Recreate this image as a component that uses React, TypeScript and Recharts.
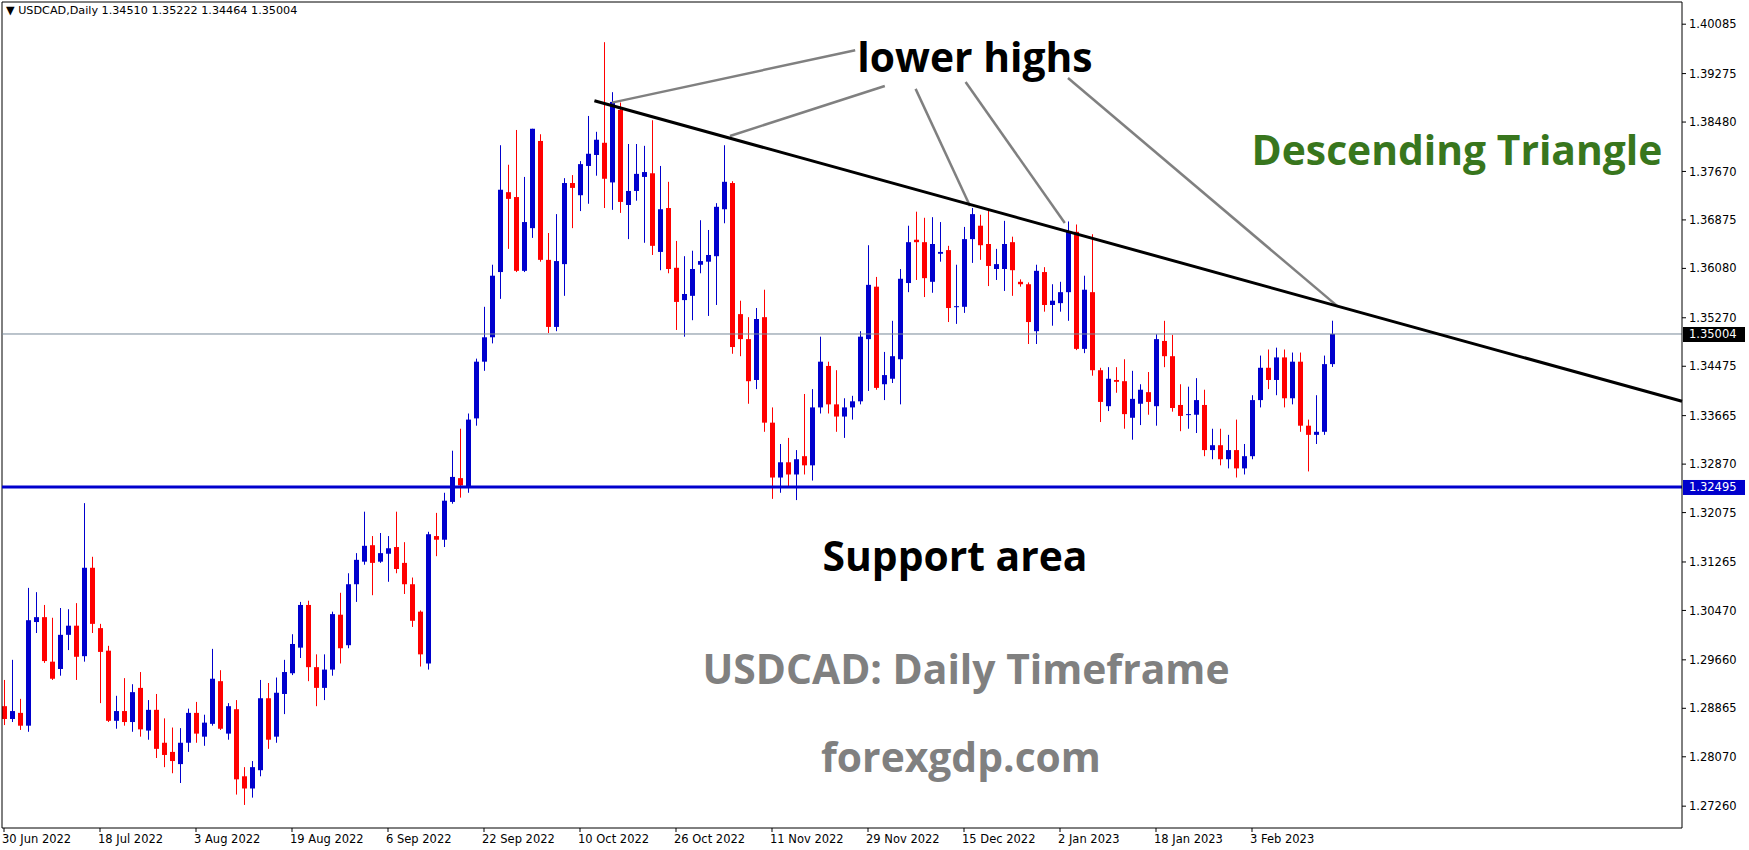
import { Bar, ComposedChart, ReferenceLine, XAxis, YAxis } from 'recharts';

// USDCAD daily, 30 Jun 2022 .. mid Feb 2023
const opens = [
  1.2890, 1.2869, 1.2879, 1.2858, 1.3028, 1.3036, 1.2963, 1.2951, 1.3007, 1.3022,
  1.2972, 1.3117, 1.3018, 1.2981, 1.2866, 1.2882, 1.2864, 1.2920, 1.2850, 1.2884,
  1.2830, 1.2815, 1.2795, 1.2830, 1.2879, 1.2840, 1.2861, 1.2931, 1.2845, 1.2885,
  1.2775, 1.2755, 1.2785, 1.2903, 1.2840, 1.2910, 1.2944, 1.2986, 1.3056, 1.2954,
  1.2920, 1.2950, 1.3040, 1.2990, 1.3090, 1.3127, 1.3154, 1.3127, 1.3140, 1.3151,
  1.3125, 1.3090, 1.3045, 1.2960, 1.3169, 1.3163, 1.3225, 1.3264, 1.3250, 1.3362,
  1.3455, 1.3495, 1.3602, 1.3733, 1.3725, 1.3604, 1.3674, 1.3817, 1.3622, 1.3512,
  1.3615, 1.3748, 1.3728, 1.3776, 1.3794, 1.3814, 1.3749, 1.3868, 1.3712, 1.3735,
  1.3758, 1.3764, 1.3635, 1.3707, 1.3609, 1.3556, 1.3563, 1.3614, 1.3619, 1.3628,
  1.3705, 1.3748, 1.3533, 1.3492, 1.3425, 1.3528, 1.3355, 1.3265, 1.3290, 1.3270,
  1.3300, 1.3285, 1.3380, 1.3448, 1.3385, 1.3365, 1.3380, 1.3390, 1.3492, 1.3578,
  1.3418, 1.3427, 1.3459, 1.3584, 1.3655, 1.3651, 1.3586, 1.3632, 1.3638, 1.3545,
  1.3545, 1.3656, 1.3678, 1.3648, 1.3607, 1.3607, 1.3651, 1.3586, 1.3582, 1.3505,
  1.3602, 1.3548, 1.3551, 1.3569, 1.3668, 1.3476, 1.3569, 1.3441, 1.3382, 1.3425,
  1.3423, 1.3363, 1.3386, 1.3405, 1.3382, 1.3489, 1.3464, 1.3384, 1.3368, 1.3368,
  1.3384, 1.3310, 1.3318, 1.3295, 1.3310, 1.3280, 1.3300, 1.3392, 1.3445, 1.3425,
  1.3462, 1.3395, 1.3455, 1.3350, 1.3335, 1.3340, 1.3451,
];
const highs = [
  1.2933, 1.2966, 1.2902, 1.3084, 1.3077, 1.3056, 1.3035, 1.3051, 1.3049, 1.3059,
  1.3223, 1.3135, 1.3025, 1.2989, 1.2907, 1.2936, 1.2926, 1.2946, 1.2900, 1.2910,
  1.2870, 1.2855, 1.2854, 1.2886, 1.2897, 1.2876, 1.2984, 1.2949, 1.2895, 1.2900,
  1.2790, 1.2800, 1.2933, 1.2928, 1.2937, 1.2966, 1.3008, 1.3061, 1.3063, 1.2975,
  1.2975, 1.3045, 1.3076, 1.3108, 1.3141, 1.3209, 1.3169, 1.3174, 1.3169, 1.3209,
  1.3159, 1.3101, 1.3047, 1.3176, 1.3207, 1.3240, 1.3309, 1.3345, 1.3370, 1.3460,
  1.3545, 1.3614, 1.3810, 1.3778, 1.3835, 1.3758, 1.3837, 1.3828, 1.3666, 1.3697,
  1.3756, 1.3761, 1.3784, 1.3858, 1.3832, 1.3979, 1.3897, 1.3880, 1.3812, 1.3812,
  1.3809, 1.3851, 1.3776, 1.3750, 1.3653, 1.3628, 1.3637, 1.3687, 1.3671, 1.3715,
  1.3810, 1.3751, 1.3555, 1.3528, 1.3543, 1.3573, 1.3380, 1.3320, 1.3330, 1.3310,
  1.3402, 1.3410, 1.3496, 1.3455, 1.3441, 1.3395, 1.3399, 1.3505, 1.3646, 1.3594,
  1.3471, 1.3522, 1.3607, 1.3678, 1.3701, 1.3691, 1.3692, 1.3684, 1.3645, 1.3614,
  1.3676, 1.3707, 1.3696, 1.3704, 1.3640, 1.3686, 1.3660, 1.3590, 1.3585, 1.3614,
  1.3610, 1.3582, 1.3586, 1.3685, 1.3680, 1.3596, 1.3664, 1.3445, 1.3446, 1.3446,
  1.3459, 1.3440, 1.3418, 1.3438, 1.3500, 1.3522, 1.3499, 1.3418, 1.3414, 1.3428,
  1.3409, 1.3345, 1.3345, 1.3335, 1.3360, 1.3320, 1.3400, 1.3465, 1.3475, 1.3478,
  1.3475, 1.3470, 1.3470, 1.3360, 1.3400, 1.3465, 1.35222,
];
const lows = [
  1.2859, 1.2864, 1.2851, 1.2848, 1.3010, 1.2961, 1.2933, 1.2940, 1.2982, 1.2933,
  1.2963, 1.3010, 1.2895, 1.2864, 1.2853, 1.2858, 1.2848, 1.2840, 1.2835, 1.2805,
  1.2790, 1.2780, 1.2764, 1.2815, 1.2830, 1.2825, 1.2858, 1.2851, 1.2835, 1.2745,
  1.2728, 1.2740, 1.2775, 1.2820, 1.2830, 1.2877, 1.2941, 1.2969, 1.2931, 1.2890,
  1.2900, 1.2940, 1.2960, 1.2985, 1.3061, 1.3122, 1.3072, 1.3125, 1.3094, 1.3108,
  1.3074, 1.3020, 1.2955, 1.2950, 1.3136, 1.3151, 1.3222, 1.3232, 1.3240, 1.3350,
  1.3440, 1.3485, 1.3558, 1.3640, 1.3602, 1.3602, 1.3658, 1.3619, 1.3502, 1.3505,
  1.3563, 1.3674, 1.3702, 1.3714, 1.3760, 1.3707, 1.3704, 1.3699, 1.3656, 1.3719,
  1.3650, 1.3630, 1.3605, 1.3600, 1.3507, 1.3496, 1.3523, 1.3600, 1.3530, 1.3548,
  1.3682, 1.3468, 1.3464, 1.3386, 1.3410, 1.3340, 1.3230, 1.3240, 1.3250, 1.3228,
  1.3270, 1.3260, 1.3370, 1.3370, 1.3340, 1.3330, 1.3360, 1.3385, 1.3407, 1.3409,
  1.3392, 1.3420, 1.3385, 1.3569, 1.3589, 1.3561, 1.3568, 1.3619, 1.3520, 1.3517,
  1.3535, 1.3617, 1.3622, 1.3579, 1.3589, 1.3571, 1.3563, 1.3578, 1.3484, 1.3484,
  1.3537, 1.3514, 1.3537, 1.3522, 1.3474, 1.3469, 1.3432, 1.3356, 1.3374, 1.3404,
  1.3345, 1.3327, 1.3351, 1.3368, 1.3350, 1.3446, 1.3373, 1.3341, 1.3345, 1.3338,
  1.3300, 1.3295, 1.3285, 1.3280, 1.3265, 1.3270, 1.3295, 1.3380, 1.3410, 1.3400,
  1.3380, 1.3385, 1.3340, 1.3275, 1.3320, 1.3335, 1.34464,
];
const closes = [
  1.2869, 1.2882, 1.2858, 1.3031, 1.3036, 1.2964, 1.2935, 1.3007, 1.3022, 1.2971,
  1.3117, 1.3025, 1.2979, 1.2866, 1.2882, 1.2864, 1.2913, 1.2852, 1.2884, 1.2820,
  1.2810, 1.2800, 1.2830, 1.2879, 1.2845, 1.2863, 1.2935, 1.2853, 1.2890, 1.2770,
  1.2755, 1.2790, 1.2903, 1.2835, 1.2912, 1.2946, 1.2992, 1.3056, 1.2954, 1.2920,
  1.2950, 1.3041, 1.2985, 1.3090, 1.3130, 1.3153, 1.3125, 1.3141, 1.3149, 1.3115,
  1.3090, 1.3030, 1.2975, 1.3172, 1.3163, 1.3227, 1.3266, 1.3252, 1.3360, 1.3455,
  1.3495, 1.3596, 1.3737, 1.3722, 1.3604, 1.3684, 1.3837, 1.3622, 1.3512, 1.3620,
  1.3748, 1.3740, 1.3779, 1.3796, 1.3819, 1.3755, 1.3881, 1.3717, 1.3735, 1.3763,
  1.3766, 1.3645, 1.3705, 1.3607, 1.3553, 1.3566, 1.3607, 1.3620, 1.3630, 1.3709,
  1.3750, 1.3479, 1.3492, 1.3423, 1.3525, 1.3355, 1.3265, 1.3290, 1.3270, 1.3295,
  1.3285, 1.3380, 1.3455, 1.3385, 1.3365, 1.3380, 1.3390, 1.3496, 1.3581, 1.3412,
  1.3433, 1.3464, 1.3591, 1.3651, 1.3651, 1.3592, 1.3648, 1.3635, 1.3543, 1.3546,
  1.3656, 1.3697, 1.3646, 1.3612, 1.3615, 1.3648, 1.3605, 1.3582, 1.3520, 1.3604,
  1.3548, 1.3555, 1.3569, 1.3668, 1.3476, 1.3573, 1.3441, 1.3389, 1.3427, 1.3422,
  1.3369, 1.3394, 1.3409, 1.3389, 1.3492, 1.3464, 1.3379, 1.3366, 1.3369, 1.3392,
  1.3310, 1.3318, 1.3295, 1.3310, 1.3280, 1.3300, 1.3392, 1.3445, 1.3425, 1.3462,
  1.3395, 1.3455, 1.3350, 1.3335, 1.3340, 1.3451, 1.35004,
];

const dateTickBars = [0, 12, 24, 36, 48, 60, 72, 84, 96, 108, 120, 132, 144, 156];
const dateLabels = [
  '30 Jun 2022', '18 Jul 2022', '3 Aug 2022', '19 Aug 2022', '6 Sep 2022', '22 Sep 2022', '10 Oct 2022',
  '26 Oct 2022', '11 Nov 2022', '29 Nov 2022', '15 Dec 2022', '2 Jan 2023', '18 Jan 2023', '3 Feb 2023',
];
const priceTicks = [
  1.40085, 1.39275, 1.3848, 1.3767, 1.36875, 1.3608, 1.3527, 1.34475, 1.33665,
  1.3287, 1.32075, 1.31265, 1.3047, 1.2966, 1.28865, 1.2807, 1.2726,
];
const lastPrice = 1.35004;
const supportLevel = 1.32495;
const trendLine = [{ x: 73.8, y: 1.3883 }, { x: 209.75, y: 1.339 }];
const pointerLines = [
  [{ x: 106.4, y: 1.39657 }, { x: 76.0, y: 1.38799 }],
  [{ x: 110.1, y: 1.39071 }, { x: 90.75, y: 1.38251 }],
  [{ x: 113.95, y: 1.39024 }, { x: 120.75, y: 1.37103 }],
  [{ x: 120.2, y: 1.39137 }, { x: 132.6, y: 1.36824 }],
  [{ x: 133.0, y: 1.39202 }, { x: 166.75, y: 1.35453 }],
];

const candles = opens.map((o, i) => ({
  i,
  o,
  h: highs[i],
  l: lows[i],
  c: closes[i],
  range: [lows[i], highs[i]],
}));

const BULL = '#0000cd';
const BEAR = '#ff0000';
const MT_FONT = '"DejaVu Sans", sans-serif';
const BIG_FONT = '"Open Sans", sans-serif';

function Candle(props: any) {
  const { x, y, width, height, payload } = props;
  if (!payload) return null;
  const { o, h, l, c } = payload;
  const color = c >= o ? BULL : BEAR;
  const top = Math.min(y, y + height);
  const span = Math.abs(height);
  const k = h > l ? span / (h - l) : 0;
  const py = (p: number) => top + (h - p) * k;
  const cx = Math.round(x + width / 2) + 0.5;
  const bodyTop = py(Math.max(o, c));
  const bodyH = Math.max(1, py(Math.min(o, c)) - bodyTop);
  return (
    <g>
      <line x1={cx} x2={cx} y1={top} y2={top + span} stroke={color} strokeWidth={1} />
      <rect x={cx - 2.5} y={bodyTop} width={5} height={bodyH} fill={color} />
    </g>
  );
}

function DateTick(props: any) {
  const { x, y, payload } = props;
  const label = dateLabels[dateTickBars.indexOf(payload.value)];
  return (
    <g>
      <line x1={x} x2={x} y1={y} y2={y + 4} stroke="#000" />
      <text x={x - 2} y={y + 15} fontSize={11.5} fontFamily={MT_FONT} fill="#000">
        {label}
      </text>
    </g>
  );
}

function PriceTag(props: any) {
  const { viewBox, text, fill } = props;
  if (!viewBox) return null;
  const x = viewBox.x + viewBox.width + 1;
  const y = viewBox.y;
  return (
    <g>
      <rect x={x} y={y - 7} width={62} height={15} fill={fill} />
      <text x={x + 6} y={y + 4.5} fill="#fff" fontSize={11.5} fontFamily={MT_FONT}>
        {text}
      </text>
    </g>
  );
}

export default function App() {
  return (
    <div style={{ position: 'absolute', left: 0, top: 0, width: 1749, height: 850, background: '#fff' }}>
      <ComposedChart width={1749} height={850} data={candles} margin={{ top: 2, right: 0, bottom: 0, left: 2 }}>
        <XAxis
          dataKey="i"
          type="number"
          domain={[-0.25, 209.75]}
          allowDataOverflow
          ticks={dateTickBars}
          interval={0}
          tick={<DateTick />}
          tickLine={false}
          tickSize={0}
          tickMargin={0}
          height={22}
          stroke="#000"
        />
        <YAxis
          orientation="right"
          domain={[1.26902, 1.40449]}
          allowDataOverflow
          ticks={priceTicks}
          interval={0}
          width={67}
          tickSize={4}
          tickMargin={3}
          stroke="#000"
          tick={{ fill: '#000', fontSize: 11.5, fontFamily: MT_FONT }}
          tickFormatter={(v: number) => v.toFixed(5)}
        />
        <ReferenceLine x={-0.25} stroke="#000" ifOverflow="visible" />
        <ReferenceLine y={1.40449} stroke="#000" ifOverflow="visible" />
        <ReferenceLine
          y={lastPrice}
          stroke="#778899"
          strokeWidth={1}
          label={<PriceTag text={lastPrice.toFixed(5)} fill="#000" />}
        />
        <ReferenceLine
          y={supportLevel}
          stroke="#0000cd"
          strokeWidth={3}
          label={<PriceTag text={supportLevel.toFixed(5)} fill="#0000cd" />}
        />
        <Bar dataKey="range" barSize={5} shape={<Candle />} isAnimationActive={false} />
        {pointerLines.map((seg, k) => (
          <ReferenceLine key={k} segment={seg} stroke="#808080" strokeWidth={2.5} ifOverflow="visible" />
        ))}
        <ReferenceLine segment={trendLine} stroke="#000" strokeWidth={3} ifOverflow="visible" />
      </ComposedChart>
      <svg
        width={1749}
        height={850}
        style={{ position: 'absolute', left: 0, top: 0, pointerEvents: 'none' }}
      >
        <text x={6} y={14} fontSize={11.2} fontFamily={MT_FONT} fill="#000">
          ▼ USDCAD,Daily  1.34510 1.35222 1.34464 1.35004
        </text>
        <g fontFamily={BIG_FONT} fontWeight={700} fontSize={40.8} textAnchor="middle">
          <text x={975} y={72} fill="#000">lower highs</text>
          <text x={1457} y={165} fill="#38761d">Descending Triangle</text>
          <text x={955} y={571} fill="#000">Support area</text>
          <text x={966} y={684} fill="#808080">USDCAD: Daily Timeframe</text>
          <text x={961} y={772} fill="#808080">forexgdp.com</text>
        </g>
      </svg>
    </div>
  );
}
